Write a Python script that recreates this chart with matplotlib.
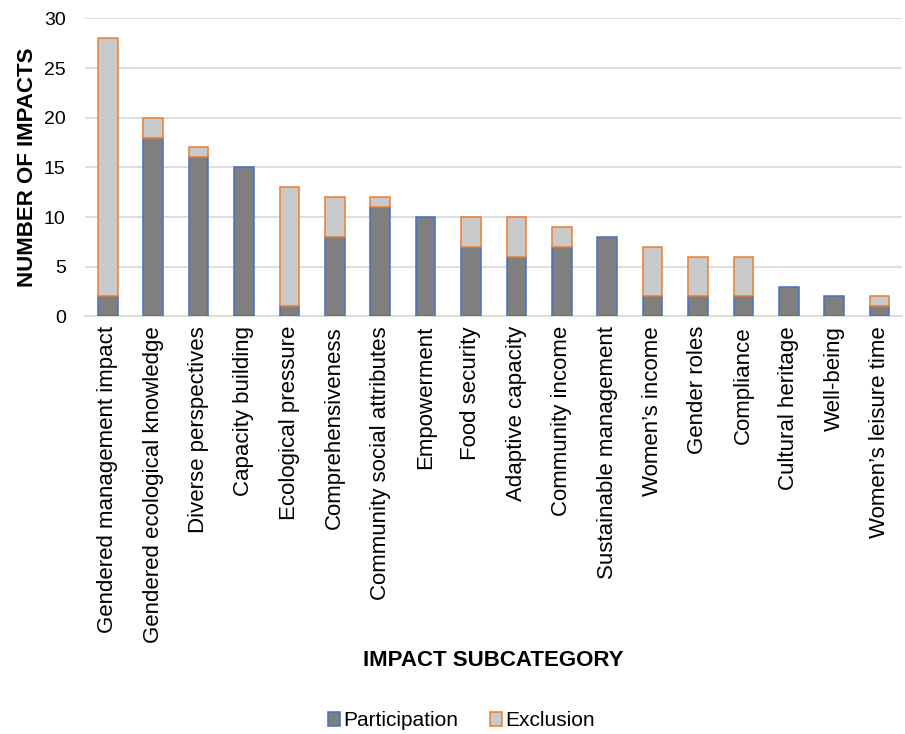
import matplotlib.pyplot as plt
import numpy as np

plt.rcParams['font.family'] = ['Liberation Sans', 'DejaVu Sans']

categories = ['Gendered management impact', 'Gendered ecological knowledge',
              'Diverse perspectives', 'Capacity building', 'Ecological pressure',
              'Comprehensiveness', 'Community social attributes', 'Empowerment',
              'Food security', 'Adaptive capacity', 'Community income',
              'Sustainable management', 'Women\u2019s income', 'Gender roles',
              'Compliance', 'Cultural heritage', 'Well-being',
              'Women\u2019s leisure time']
participation = [2, 18, 16, 15, 1, 8, 11, 10, 7, 6, 7, 8, 2, 2, 2, 3, 2, 1]
exclusion = [26, 2, 1, 0, 12, 4, 1, 0, 3, 4, 2, 0, 5, 4, 4, 0, 0, 1]

fig = plt.figure(figsize=(9.05, 7.34), dpi=100)
ax = fig.add_axes([0.094, 0.569, 0.903, 0.406])

x = np.arange(len(categories))
bw = 0.43
ax.bar(x, participation, width=bw, color='#7f7f7f', edgecolor='#4472c4',
       linewidth=1.1, label='Participation', zorder=3)
# exclusion only where there is some, otherwise empty outlines show up
excl = np.array(exclusion, dtype=float)
mask = excl > 0
ax.bar(x[mask], excl[mask], bottom=np.array(participation)[mask], width=bw,
       color='#c9c9c9', edgecolor='#ed7d31', linewidth=1.1,
       label='Exclusion', zorder=3)

ax.set_ylim(0, 30)
ax.set_yticks(range(0, 31, 5))
ax.set_xlim(-0.5, len(categories) - 0.5)
ax.set_xticks(x)
ax.set_xticklabels(categories, rotation=90, fontsize=16)
ax.tick_params(axis='y', labelsize=14, length=0, pad=14)
ax.tick_params(axis='x', length=0, pad=7)
ax.grid(axis='y', color='#d9d9d9', linewidth=1.2, zorder=0)
for s in ['top', 'right', 'left']:
    ax.spines[s].set_visible(False)
ax.spines['bottom'].set_color('#d9d9d9')
ax.spines['bottom'].set_linewidth(1.2)

ax.set_ylabel('NUMBER OF IMPACTS', fontsize=16, fontweight='bold', labelpad=4)
fig.text(0.545, 0.10, 'IMPACT SUBCATEGORY', fontsize=16, fontweight='bold',
         ha='center', va='center')

fig.legend(loc='center', bbox_to_anchor=(0.51, 0.018), ncol=2, frameon=False,
           fontsize=15, handlelength=0.6, handleheight=0.6, handletextpad=0.15,
           columnspacing=1.5)

plt.savefig('out.png', dpi=100)
